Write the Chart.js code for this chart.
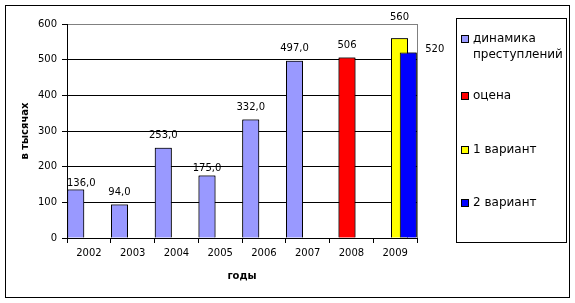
<!DOCTYPE html>
<html><head><meta charset="utf-8">
<script src="https://cdn.jsdelivr.net/npm/chart.js@4/dist/chart.umd.min.js"></script>
<style>html,body{margin:0;padding:0;background:#fff;overflow:hidden}</style>
</head><body>
<canvas id="c" width="575" height="303"></canvas>
<script>
// ---- data ----
const categories = ['2002','2003','2004','2005','2006','2007','2008','2009'];
const seriesNames = ['динамика преступлений','оцена','1 вариант','2 вариант'];
const dynamics = [136, 94, 253, 175, 332, 497, null, null];
const estimate = [null, null, null, null, null, null, 506, null];
const variant1 = [null, null, null, null, null, null, null, 560];
const variant2 = [null, null, null, null, null, null, null, 520];
const yTicks = [0, 100, 200, 300, 400, 500, 600];
const yAxisTitle = 'в тысячах';
const xAxisTitle = 'годы';

// ---- style ----
const FONT = 'DejaVu Sans';
const colors = ['#9999FF', '#FF0000', '#FFFF00', '#0000FF'];
const labelDecimals = [1, 0, 0, 0];
// label nudges (dy relative to bar top, centre of text)
const labelNudge = {
  '0-0': {dy: -6.5, clampLeft: true},
  '0-3': {dy: -7.5},
  '2-7': {dy: -21},
  '3-7': {right: true, dy: -3.5}
};
const legendRowY = [39, 96, 150, 203];

const frame = {
  id: 'frame',
  beforeDraw(chart) {
    const c = chart.ctx;
    c.save();
    c.fillStyle = '#fff';
    c.fillRect(0, 0, chart.width, chart.height);
    c.restore();
  },
  afterDraw(chart) {
    const c = chart.ctx, a = chart.chartArea;
    c.save();
    c.strokeStyle = '#000';
    c.lineWidth = 1;
    c.strokeRect(5.5, 5.5, 564, 292);
    c.strokeStyle = '#808080';
    c.beginPath();
    c.moveTo(Math.round(a.right) + 0.5, a.top);
    c.lineTo(Math.round(a.right) + 0.5, a.bottom);
    c.stroke();
    // legend box
    c.strokeStyle = '#000';
    c.strokeRect(456.5, 18.5, 110, 224);
    c.font = '12px "' + FONT + '"';
    c.textBaseline = 'middle';
    c.textAlign = 'left';
    seriesNames.forEach((name, i) => {
      const words = name.split(' ');
      const lines = [];
      let cur = '';
      words.forEach(w => {
        const t = cur ? cur + ' ' + w : w;
        if (c.measureText(t).width > 90 && cur) { lines.push(cur); cur = w; } else cur = t;
      });
      lines.push(cur);
      const y0 = legendRowY[i];
      c.fillStyle = colors[i];
      c.fillRect(461, y0 - 4, 8, 8);
      c.strokeStyle = '#000';
      c.strokeRect(461.5, y0 - 3.5, 7, 7);
      c.fillStyle = '#000';
      lines.forEach((ln, k) => c.fillText(ln, 473, y0 + k * 16));
    });
    c.restore();
  }
};

// Excel paints later series over earlier ones; Chart.js does the reverse,
// so repaint the bars in series order (through the library's own elements).
const paintOrder = {
  id: 'paintOrder',
  afterDatasetsDraw(chart) {
    const c = chart.ctx, a = chart.chartArea;
    c.save();
    c.beginPath();
    c.rect(a.left, a.top, a.right - a.left, a.bottom - a.top);
    c.clip();
    chart.data.datasets.forEach((ds, di) => {
      const meta = chart.getDatasetMeta(di);
      ds.data.forEach((v, i) => {
        if (v === null || v === undefined) return;
        meta.data[i].draw(c);
      });
    });
    c.restore();
  }
};

const dataLabels = {
  id: 'dataLabels',
  afterDatasetsDraw(chart) {
    const c = chart.ctx, a = chart.chartArea;
    c.save();
    c.font = '10px "' + FONT + '"';
    c.fillStyle = '#000';
    c.textBaseline = 'middle';
    c.textAlign = 'center';
    chart.data.datasets.forEach((ds, di) => {
      const meta = chart.getDatasetMeta(di);
      ds.data.forEach((v, i) => {
        if (v === null || v === undefined) return;
        const el = meta.data[i];
        const txt = v.toFixed(labelDecimals[di]).replace('.', ',');
        const w = c.measureText(txt).width;
        const n = labelNudge[di + '-' + i] || {};
        let x = el.x;
        let y = el.y + (n.dy !== undefined ? n.dy : -12.5);
        if (n.right) x = el.x + el.width / 2 + 8.5 + w / 2;
        if (n.clampLeft && x - w / 2 < a.left) x = a.left + w / 2;
        c.fillText(txt, x, y);
      });
    });
    c.restore();
  }
};

const seriesData = [dynamics, estimate, variant1, variant2];
new Chart(document.getElementById('c'), {
  type: 'bar',
  data: {
    labels: categories,
    datasets: seriesData.map((d, i) => ({
      label: seriesNames[i],
      data: d,
      backgroundColor: colors[i],
      borderColor: '#000',
      borderWidth: 1,
      categoryPercentage: 0.8,
      barPercentage: 1.94
    }))
  },
  options: {
    responsive: false,
    animation: false,
    devicePixelRatio: 1,
    layout: {padding: {top: 24, right: 158, left: 0, bottom: 0}},
    plugins: {legend: {display: false}, tooltip: {enabled: false}, title: {display: false}},
    scales: {
      x: {
        offset: true,
        grid: {offset: true, drawOnChartArea: false, tickLength: 5, color: '#000', tickColor: '#000'},
        border: {color: '#000'},
        ticks: {color: '#000', font: {family: FONT, size: 10}, padding: 4, maxRotation: 0, autoSkip: false},
        title: {display: true, text: xAxisTitle, color: '#000', font: {family: FONT, size: 10, weight: 'bold'}, padding: {top: 0, bottom: 21}},
        afterFit(s) { s.height = 65; }
      },
      y: {
        min: 0, max: 600,
        afterBuildTicks(s) { s.ticks = yTicks.map(v => ({value: v})); },
        grid: {color: ctx => (ctx.tick && ctx.tick.value === 600) ? '#808080' : '#000', tickColor: '#000', tickLength: 5},
        border: {color: '#000'},
        ticks: {color: '#000', font: {family: FONT, size: 10}, padding: 5},
        title: {display: true, text: yAxisTitle, color: '#000', font: {family: FONT, size: 10, weight: 'bold'}, padding: {top: 19.5, bottom: 0}},
        afterFit(s) { s.width = 67; }
      }
    }
  },
  plugins: [frame, paintOrder, dataLabels]
});
</script>
</body></html>
